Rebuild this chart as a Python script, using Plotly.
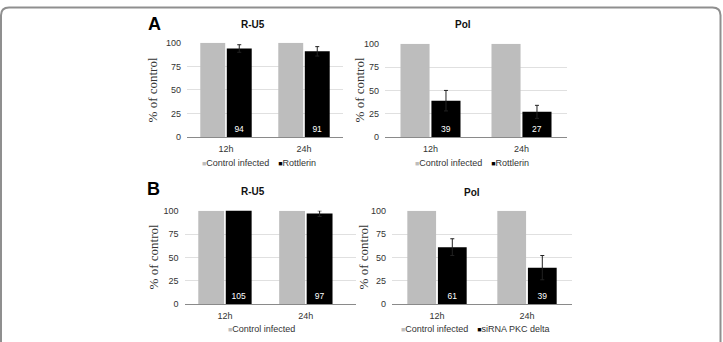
import plotly.graph_objects as go

W, H = 723, 342

categories = ["12h", "24h"]
control_name = "Control infected"

# Panel A (Rottlerin)
a_treat_name = "Rottlerin"
a_ru5_control = [100, 100]
a_ru5_treat = [94, 91]
a_ru5_err = [4, 5]
a_pol_control = [100, 100]
a_pol_treat = [39, 27]
a_pol_err = [11, 7]

# Panel B (siRNA PKC delta)
b_treat_name = "siRNA PKC delta"
b_ru5_control = [100, 100]
b_ru5_treat = [105, 97]
b_ru5_err = [0, 3]
b_pol_control = [100, 100]
b_pol_treat = [61, 39]
b_pol_err = [9, 13]

y_ticks = [0, 25, 50, 75, 100]

GRAY = "#bdbdbd"
BLACK = "#000000"
SANS = "Liberation Sans, Arial, sans-serif"
SERIF = "Liberation Serif, Times New Roman, serif"


def fx(px):
    return px / W


def fy(py):
    return 1 - py / H


panels = [
    dict(ctrl=a_ru5_control, trt=a_ru5_treat, err=a_ru5_err, name=a_treat_name,
         xd=(187, 343), yd=(39, 136), xr=[-0.5, 1.5], title="R-U5", tpos=(253, 20),
         ytpos=(152, 88), legpos=(259, 163), show_treat_leg=True),
    dict(ctrl=a_pol_control, trt=a_pol_treat, err=a_pol_err, name=a_treat_name,
         xd=(385, 567), yd=(40, 136), xr=[-0.5, 1.5], title="Pol", tpos=(463, 20),
         ytpos=(359, 88), legpos=(472, 163), show_treat_leg=True),
    dict(ctrl=b_ru5_control, trt=b_ru5_treat, err=b_ru5_err, name=b_treat_name,
         xd=(184.5, 356), yd=(212, 308), xr=[-0.5, 1.62], title="R-U5", tpos=(253, 192),
         ytpos=(153, 260), legpos=(261, 334), show_treat_leg=False),
    dict(ctrl=b_pol_control, trt=b_pol_treat, err=b_pol_err, name=b_treat_name,
         xd=(392, 572), yd=(212, 308), xr=[-0.5, 1.5], title="Pol", tpos=(472, 193),
         ytpos=(363, 260), legpos=(475, 334), show_treat_leg=True),
]

fig = go.Figure()
layout = dict(
    width=W, height=H,
    margin=dict(l=0, r=0, t=0, b=0),
    paper_bgcolor="white", plot_bgcolor="white",
    barmode="group", bargap=0.32, bargroupgap=0.06,
    showlegend=False,
    font=dict(family=SANS, size=9, color="#333333"),
)
annotations = []
shapes = []

for i, p in enumerate(panels, start=1):
    xa = "x" if i == 1 else f"x{i}"
    ya = "y" if i == 1 else f"y{i}"
    fig.add_trace(go.Bar(
        x=categories, y=p["ctrl"], name=control_name, marker_color=GRAY,
        marker_line_width=0, xaxis=xa, yaxis=ya,
    ))
    fig.add_trace(go.Bar(
        x=categories, y=p["trt"], name=p["name"], marker_color=BLACK,
        marker_line_width=0, xaxis=xa, yaxis=ya,
        text=[str(v) for v in p["trt"]], textposition="inside",
        insidetextanchor="start", textangle=0,
        textfont=dict(color="white", size=8.5, family=SANS),
        error_y=dict(type="data", array=p["err"], color="#222222", thickness=1, width=2),
    ))
    xk = "xaxis" if i == 1 else f"xaxis{i}"
    yk = "yaxis" if i == 1 else f"yaxis{i}"
    layout[xk] = dict(
        domain=[fx(p["xd"][0]), fx(p["xd"][1])], anchor=ya,
        type="category", range=p["xr"], showgrid=False,
        showline=True, linecolor="#8a8a8a", linewidth=1, ticks="",
        ticklabelstandoff=3,
        tickfont=dict(size=9, color="#333333"), fixedrange=True,
    )
    layout[yk] = dict(
        domain=[fy(p["yd"][1]), fy(p["yd"][0])], anchor=xa,
        range=[0, 100], tickvals=y_ticks, showgrid=True, gridcolor="#e0e0e0",
        gridwidth=1, zeroline=False, showline=False, ticks="",
        ticklabelstandoff=5, tickfont=dict(size=9, color="#333333"), fixedrange=True,
    )
    annotations.append(dict(
        text=f"<b>{p['title']}</b>", x=fx(p["tpos"][0]), y=fy(p["tpos"][1]),
        xref="paper", yref="paper", xanchor="center", yanchor="middle",
        showarrow=False, font=dict(size=10, color="#111111", family=SANS),
    ))
    annotations.append(dict(
        text="% of control", x=fx(p["ytpos"][0]), y=fy(p["ytpos"][1]),
        xref="paper", yref="paper", xanchor="center", yanchor="middle",
        textangle=-90, showarrow=False, font=dict(size=13, color="#333333", family=SERIF),
    ))
    leg = (f'<span style="color:{GRAY};font-size:7px">■</span>{control_name}')
    if p["show_treat_leg"]:
        leg += (f'\u2002\u2002<span style="color:{BLACK};font-size:7px">■</span>{p["name"]}')
    annotations.append(dict(
        text=leg, x=fx(p["legpos"][0]), y=fy(p["legpos"][1]),
        xref="paper", yref="paper", xanchor="center", yanchor="middle",
        showarrow=False, font=dict(size=9, color="#333333", family=SANS),
    ))

# panel letters
for letter, (px, py) in [("A", (154, 20)), ("B", (153, 190))]:
    annotations.append(dict(
        text=f"<b>{letter}</b>", x=fx(px), y=fy(py), xref="paper", yref="paper",
        xanchor="center", yanchor="middle", showarrow=False,
        font=dict(size=18, color="#000000", family=SANS),
    ))

# outer rounded frame
r = 8
xl, xr_, yt, yb = 1, 720.5, 2.5, 360
path = (f"M {fx(xl)},{fy(yb)} L {fx(xl)},{fy(yt + r)} Q {fx(xl)},{fy(yt)} {fx(xl + r)},{fy(yt)} "
        f"L {fx(xr_ - r)},{fy(yt)} Q {fx(xr_)},{fy(yt)} {fx(xr_)},{fy(yt + r)} L {fx(xr_)},{fy(yb)}")
shapes.append(dict(type="path", path=path, xref="paper", yref="paper",
                   line=dict(color="#8f8f8f", width=2)))

layout["annotations"] = annotations
layout["shapes"] = shapes
fig.update_layout(**layout)
fig.write_html("out.html")
